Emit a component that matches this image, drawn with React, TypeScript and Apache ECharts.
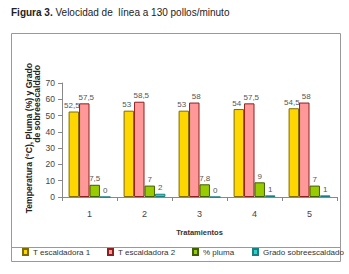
import React, { useEffect, useRef } from "react";
import * as echarts from "echarts";

const categories = ["1", "2", "3", "4", "5"];
const tEscaldadora1 = [52.5, 53, 53, 54, 54.5];
const tEscaldadora2 = [57.5, 58.5, 58, 57.5, 58];
const pluma = [7.5, 7, 7.8, 9, 7];
const gradoSobre = [0, 2, 0, 1, 1];
const seriesNames = ["T escaldadora 1", "T escaldadora 2", "% pluma", "Grado sobreescaldado"];
const legendLefts = [22, 107, 192, 252];

const FONT = "'Liberation Sans', Arial, sans-serif";

export default function App() {
  const ref = useRef<HTMLDivElement>(null);
  useEffect(() => {
    if (!ref.current) return;
    const chart = echarts.init(ref.current, null, { renderer: "svg" });
    const fmt = (p: any) => String(p.value).replace(".", ",");
    const mkLabel = (dx: number) => ({
      show: true,
      position: "top",
      distance: 2,
      offset: [dx, 0],
      formatter: fmt,
      color: "#555",
      fontSize: 8,
      fontFamily: FONT,
    });
    const mk = (name: string, data: number[], color: string, border: string, dx: number) => ({
      name,
      type: "bar",
      data,
      barGap: "0%",
      barCategoryGap: "24%",
      itemStyle: { color, borderColor: border, borderWidth: 1 },
      label: mkLabel(dx),
    });
    chart.setOption({
      animation: false,
      backgroundColor: "#fff",
      textStyle: { fontFamily: FONT },
      grid: { left: 62, right: 12, top: 83, bottom: 77 },
      legend: seriesNames.map((n, i) => ({
        left: legendLefts[i],
        top: 248,
        padding: 0,
        itemWidth: 5,
        itemHeight: 6,
        icon: "rect",
        textStyle: { fontSize: 8, color: "#333", fontFamily: FONT },
        data: [n],
      })),
      xAxis: {
        type: "category",
        data: categories,
        name: "Tratamientos",
        nameLocation: "middle",
        nameGap: 31,
        nameTextStyle: { fontWeight: "bold", fontSize: 7.5, color: "#333", fontFamily: FONT },
        axisLine: { lineStyle: { color: "#888" } },
        axisTick: { show: true, length: 4, lineStyle: { color: "#888" } },
        axisLabel: { color: "#444", fontSize: 9, margin: 12, fontFamily: FONT },
      },
      yAxis: {
        type: "value",
        min: 0,
        max: 70,
        interval: 10,
        splitLine: { show: false },
        axisLine: { show: true, lineStyle: { color: "#888" } },
        axisTick: { show: true, length: 4, lineStyle: { color: "#888" } },
        axisLabel: { color: "#444", fontSize: 8.5, margin: 7, fontFamily: FONT },
      },
      graphic: [
        {
          type: "rect",
          silent: true,
          z: -1,
          shape: { x: 11.5, y: 33.5, width: 329, height: 228 },
          style: { fill: "none", stroke: "#999", lineWidth: 1 },
        },
        {
          type: "line",
          silent: true,
          shape: { x1: 11.5, y1: 247.5, x2: 340.5, y2: 247.5 },
          style: { stroke: "#999", lineWidth: 1 },
        },
        {
          type: "text",
          x: 11,
          y: 12,
          style: {
            text: "{b|Figura 3.} Velocidad de  línea a 130 pollos/minuto",
            fontSize: 10,
            fontFamily: FONT,
            fill: "#222",
            verticalAlign: "middle",
            rich: { b: { fontWeight: "bold", fontSize: 10, fontFamily: FONT, fill: "#222" } },
          },
        },
        {
          type: "text",
          x: 29,
          y: 63,
          rotation: Math.PI / 2,
          style: {
            text: "Temperatura (°C), Pluma (%) y Grado",
            fontSize: 8.6,
            fontWeight: "bold",
            fontFamily: FONT,
            fill: "#222",
            align: "right",
            verticalAlign: "middle",
          },
        },
        {
          type: "text",
          x: 37,
          y: 65,
          rotation: Math.PI / 2,
          style: {
            text: "de sobreescaldado",
            fontSize: 8.6,
            fontWeight: "bold",
            fontFamily: FONT,
            fill: "#222",
            align: "right",
            verticalAlign: "middle",
          },
        },
      ],
      series: [
        mk(seriesNames[0], tEscaldadora1, "#FFD700", "#7F6A00", -2),
        mk(seriesNames[1], tEscaldadora2, "#FF9999", "#8B2020", 2),
        mk(seriesNames[2], pluma, "#99CC00", "#3F5F00", 0),
        mk(seriesNames[3], gradoSobre, "#33CCCC", "#1A7F7F", 0),
      ],
    });
    return () => chart.dispose();
  }, []);
  return (
    <div
      ref={ref}
      style={{ position: "fixed", left: 0, top: 0, width: 349, height: 274, background: "#fff" }}
    />
  );
}
